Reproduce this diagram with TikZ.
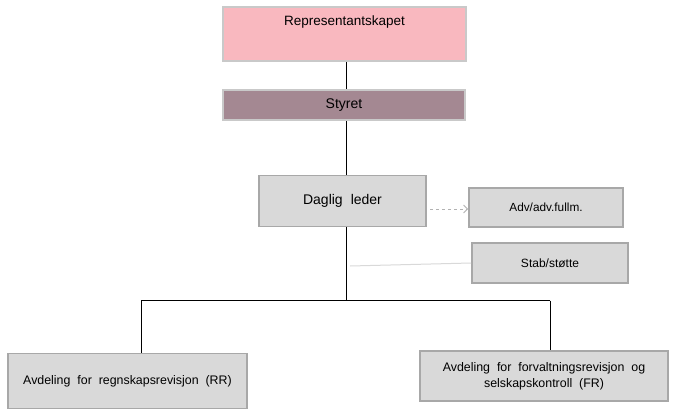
\documentclass[tikz,border=0pt]{standalone}
\usepackage{fontspec}
\setmainfont{Liberation Sans}
\usetikzlibrary{arrows.meta}
\definecolor{pinkfill}{HTML}{F9B8BF}
\definecolor{mauvefill}{HTML}{A48892}
\definecolor{grayfill}{HTML}{D9D9D9}
\definecolor{lightborder}{HTML}{C9C9C9}
\definecolor{grayborder}{HTML}{A8A8A8}
\tikzset{
  pinkbox/.style={draw=lightborder, line width=2pt, fill=pinkfill, inner sep=0pt},
  mauvebox/.style={draw=lightborder, line width=2pt, fill=mauvefill, inner sep=0pt, font=\fontsize{14}{16}\selectfont},
  graybox/.style={draw=grayborder, line width=1.8pt, fill=grayfill, inner sep=0pt, align=center, font=\fontsize{12.4}{16}\selectfont},
  txt/.style={inner sep=0pt, font=\fontsize{13.5}{16}\selectfont},
  conn/.style={line width=1pt, black},
}
\begin{document}
\begin{tikzpicture}[x=1pt, y=-1pt]
\useasboundingbox[fill=white] (0,0) rectangle (676,412);
\node[pinkbox, minimum width=243pt, minimum height=54pt] (rep) at (344.5,34) {};
\node[txt] (reptxt) at (344.5,22) {Representantskapet};
\node[mauvebox, minimum width=242pt, minimum height=30pt] (sty) at (344,105) {Styret};
\node[graybox, minimum width=167pt, minimum height=51pt, font=\fontsize{14}{16}\selectfont] (dl) at (342.5,201) {Daglig\hspace{8pt}leder};
\node[graybox, minimum width=154pt, minimum height=39pt, font=\fontsize{11.8}{15}\selectfont] (adv) at (546,207.5) {Adv/adv.fullm.};
\node[graybox, minimum width=156pt, minimum height=40pt, font=\fontsize{12}{15}\selectfont] (stab) at (550,263) {Stab/støtte};
\node[graybox, minimum width=239pt, minimum height=55pt] (rr) at (127.5,381) {Avdeling\ \ for\ \ regnskapsrevisjon\ \ (RR)};
\node[graybox, minimum width=248pt, minimum height=50pt] (fr) at (544,376) {Avdeling\ \ for\ \ forvaltningsrevisjon\ \ og\\selskapskontroll\ \ (FR)};
\coordinate (j) at (346,300.5);
\coordinate (jl) at (141,300.5);
\coordinate (jr) at (550,300.5);
\coordinate (advs) at (430,209);
\coordinate (stabs) at (350,266);
\draw[conn] (rep.south -| j) -- (sty.north -| j);
\draw[conn] (sty.south -| j) -- (dl.north -| j);
\draw[conn] (dl.south -| j) -- (j);
\draw[conn] (jl) -- (jr);
\draw[conn] (jl) -- (rr.north -| jl);
\draw[conn] (jr) -- (fr.north -| jr);
\draw[draw=black!30, line width=0.8pt, dashed, -{Straight Barb[length=4pt,width=8pt]}] (advs) -- (adv.west |- advs);
\draw[draw=black!15, line width=1pt] (stabs) -- (stab.west);
\end{tikzpicture}
\end{document}
